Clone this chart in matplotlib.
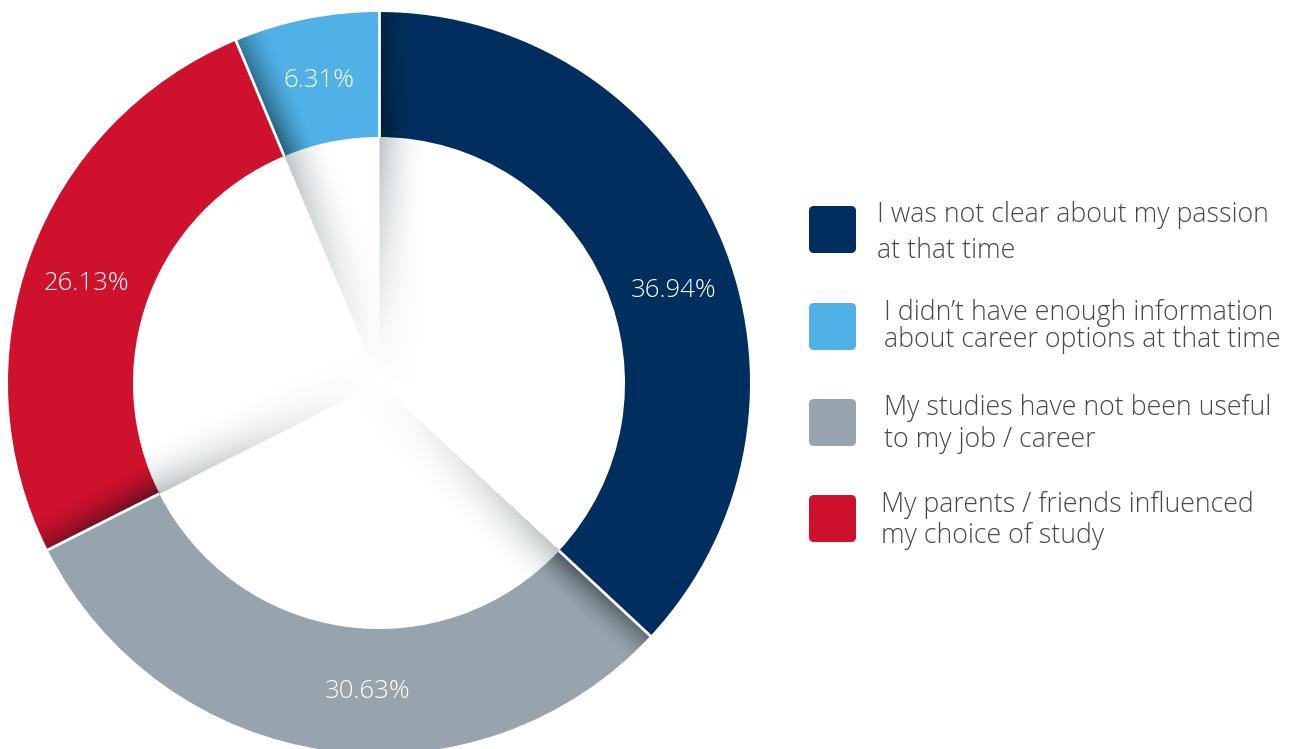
import numpy as np
import matplotlib.pyplot as plt
from matplotlib.patches import FancyBboxPatch

plt.rcParams["font.family"] = ["Open Sans", "DejaVu Sans"]

# slices, clockwise from 12 o'clock
values = [36.94, 30.63, 26.13, 6.31]
colors = ["#002F5F", "#97A4AD", "#CE112D", "#4FB1E5"]
legend_lines = [
    ["I was not clear about my passion", "at that time"],
    ["My studies have not been useful", "to my job / career"],
    ["My parents / friends influenced", "my choice of study"],
    ["I didn\u2019t have enough information", "about career options at that time"],
]
legend_order = [0, 3, 1, 2]

W, H = 1290, 749
CX, CY = 379, 383          # ring centre in pixels
R_OUT, R_IN = 371, 246
HALF = 380

fig = plt.figure(figsize=(W / 100, H / 100), dpi=100)
ax = fig.add_axes([(CX - HALF) / W, (H - CY - HALF) / H, 2 * HALF / W, 2 * HALF / H])

ax.pie(values, colors=colors, startangle=90, counterclock=False, radius=R_OUT,
       wedgeprops=dict(width=R_OUT - R_IN, linewidth=0))

# folded-ribbon shading after each slice boundary
g = np.linspace(-HALF, HALF, 2 * HALF)
X, Y = np.meshgrid(g, g[::-1])
r = np.hypot(X, Y)
theta = (90 - np.degrees(np.arctan2(Y, X))) % 360
bounds = 3.6 * np.concatenate([[0], np.cumsum(values)[:-1]])

ring_a = np.zeros_like(r)
hole_a = np.zeros_like(r)
for b in bounds:
    d = (theta - b) % 360
    dr = np.radians(d)
    near = d < 90
    s = dr * r
    fade = 0.7 + 0.3 * np.clip((R_OUT - r) / (R_OUT - R_IN), 0, 1)
    a = np.clip(1 - s / 34, 0, 1) ** 1.6 * 0.55 * fade
    ring_a = np.maximum(ring_a, np.where(near, a, 0))
    p = r * np.sin(dr)
    h = np.clip(1 - p / 50, 0, 1) ** 2 * 0.45 * np.clip(r / R_IN, 0, 1) ** 1.2
    hole_a = np.maximum(hole_a, np.where(near, h, 0))

img = np.zeros(r.shape + (4,))
in_ring = (r >= R_IN) & (r <= R_OUT)
in_hole = r < R_IN
img[in_ring, :3] = (0.02, 0.06, 0.09)
img[in_ring, 3] = ring_a[in_ring]
img[in_hole, :3] = (0.40, 0.47, 0.49)
img[in_hole, 3] = hole_a[in_hole]
ax.imshow(img, extent=(-HALF, HALF, -HALF, HALF), interpolation="bilinear", zorder=3)

# white gaps between slices
for b in bounds:
    a = np.radians(90 - b)
    ax.plot([R_IN * np.cos(a), (R_OUT + 2) * np.cos(a)],
            [R_IN * np.sin(a), (R_OUT + 2) * np.sin(a)],
            color="white", lw=2, solid_capstyle="butt", zorder=4)

# percentage labels inside the ring
label_shift = [-6, 6, 1.5, 0]
starts = np.concatenate([[0], np.cumsum(values)[:-1]])
r_lab = (R_OUT + R_IN) / 2
for v, st, sh in zip(values, starts, label_shift):
    ang = np.radians(90 - 3.6 * (st + v / 2) + sh)
    ax.text(r_lab * np.cos(ang), r_lab * np.sin(ang), f"{v:.2f}%",
            ha="center", va="center", color="white", fontsize=18.5, fontweight=300,
            zorder=5)

ax.set_xlim(-HALF, HALF)
ax.set_ylim(-HALF, HALF)
ax.set_aspect("equal")
ax.axis("off")

# legend in pixel coordinates
lg = fig.add_axes([0, 0, 1, 1])
lg.set_xlim(0, W)
lg.set_ylim(H, 0)
lg.axis("off")

box_top = [206, 303, 399, 495]
text_x = [877, 884, 884, 881]
baselines = [[222, 258], [320, 347], [415, 447], [512, 543]]
for k, idx in enumerate(legend_order):
    lg.add_patch(FancyBboxPatch((809, box_top[k]), 47, 47,
                                boxstyle="round,pad=0,rounding_size=5",
                                facecolor=colors[idx], edgecolor="none"))
    for line, yb in zip(legend_lines[idx], baselines[k]):
        lg.text(text_x[k], yb, line, ha="left", va="baseline",
                color="#474747", fontsize=19.3, fontweight=300)

fig.savefig("out.png", dpi=100, facecolor="white")
